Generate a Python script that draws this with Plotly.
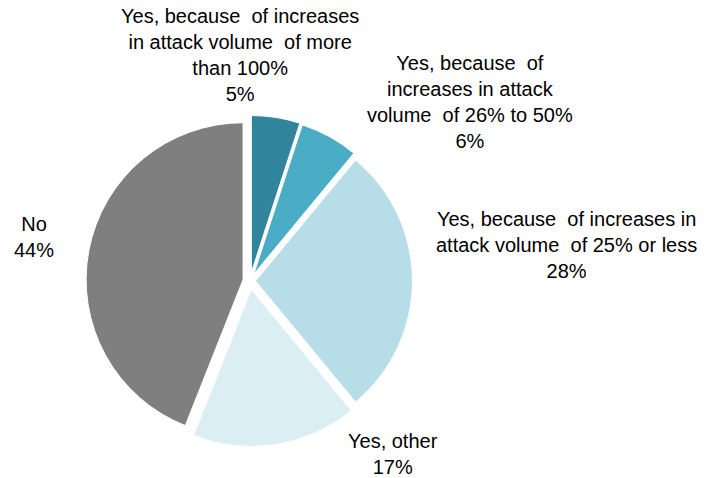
import plotly.graph_objects as go

NB = "\u00a0"

# Survey answers, clockwise from 12 o'clock
labels = [
    f"Yes, because {NB}of increases<br>in attack volume {NB}of more<br>than 100%",
    f"Yes, because {NB}of<br>increases in attack<br>volume {NB}of 26% to 50%",
    f"Yes, because {NB}of increases in<br>attack volume {NB}of 25% or less",
    "Yes, other",
    "No",
]
values = [5, 6, 28, 17, 44]
colors = ["#31849B", "#4BACC6", "#B7DEE8", "#DAEEF3", "#7F7F7F"]
pulls = [0.055, 0.05, 0.035, 0.055, 0.045]

# label anchor positions (paper coords, centre of text block)
label_pos = [
    (0.340, 0.885),
    (0.667, 0.787),
    (0.804, 0.487),
    (0.557, 0.050),
    (0.048, 0.504),
]

fig = go.Figure(
    go.Pie(
        labels=[l.replace("<br>", " ").replace(NB, "") for l in labels],
        values=values,
        marker=dict(colors=colors, line=dict(color="white", width=1)),
        pull=pulls,
        sort=False,
        direction="clockwise",
        rotation=0,
        textinfo="none",
        hoverinfo="label+percent",
        domain=dict(x=[0.1197, 0.5895], y=[0.0657, 0.7585]),
        showlegend=False,
    )
)

for lab, val, (x, y) in zip(labels, values, label_pos):
    fig.add_annotation(
        x=x, y=y, xref="paper", yref="paper",
        text=f"{lab}<br>{val}%",
        showarrow=False, align="center",
        xanchor="center", yanchor="middle",
        font=dict(family="Liberation Sans, Arial, sans-serif", size=20, color="#000000"),
    )

fig.update_layout(
    width=705, height=478,
    margin=dict(l=0, r=0, t=0, b=0),
    paper_bgcolor="white", plot_bgcolor="white",
)

fig.write_html("out.html")
